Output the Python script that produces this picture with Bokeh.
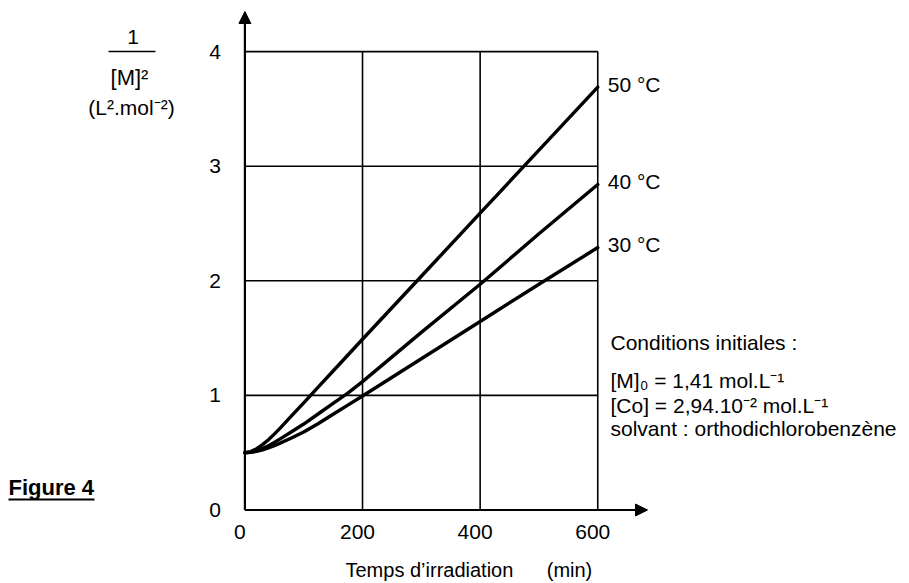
from bokeh.plotting import figure
from bokeh.models import Range1d, Arrow, NormalHead
from bokeh.core.properties import value
from bokeh.embed import file_html
from bokeh.resources import INLINE

# ---------------- data ----------------
x_50 = [0, 10, 20, 30, 40, 50, 60, 80, 100, 125, 150, 200, 300, 400, 500, 600]
y_50 = [0.50, 0.51, 0.535, 0.57, 0.613, 0.662, 0.715, 0.825, 0.935, 1.075, 1.213, 1.49, 2.04, 2.59, 3.14, 3.69]

x_40 = [0, 10, 20, 30, 40, 50, 60, 80, 100, 125, 150, 175, 200, 300, 400, 500, 600]
y_40 = [0.50, 0.505, 0.518, 0.537, 0.561, 0.59, 0.621, 0.685, 0.75, 0.84, 0.93, 1.02, 1.12, 1.55, 1.97, 2.41, 2.84]

x_30 = [0, 10, 20, 30, 40, 50, 60, 80, 100, 125, 150, 175, 200, 300, 400, 500, 600]
y_30 = [0.50, 0.503, 0.512, 0.525, 0.542, 0.562, 0.584, 0.63, 0.68, 0.755, 0.835, 0.915, 0.995, 1.32, 1.645, 1.97, 2.29]

series_labels = ["50 °C", "40 °C", "30 °C"]

x_ticks = [0, 200, 400, 600]
x_tick_labels = ["0", "200", "400", "600"]
y_ticks = [0, 1, 2, 3, 4]
y_tick_labels = ["0", "1", "2", "3", "4"]

x_title = "Temps d’irradiation"
x_unit = "(min)"
y_title_num = "1"
y_title_den = "[M]²"
y_unit = "(L².mol⁻²)"
conditions = [
    "Conditions initiales :",
    "[M]₀ = 1,41 mol.L⁻¹",
    "[Co] = 2,94.10⁻² mol.L⁻¹",
    "solvant : orthodichlorobenzène",
]
fig_label = "Figure 4"

# ---------------- layout (page pixels) ----------------
W, H = 909, 583
PX0, SX = 244.4, 0.5881   # page x of t=0, pixels per minute
PY0, SY = 509.5, 114.6    # page y of value 0, pixels per unit


def xd(px):
    return (px - PX0) / SX


def yd(py):
    return (PY0 - py) / SY


FONT = value("Liberation Sans")
BLACK = "#000000"

p = figure(width=W, height=H, output_backend="svg", toolbar_location=None,
           x_range=Range1d(xd(0), xd(W)), y_range=Range1d(yd(H), yd(0)),
           x_axis_type=None, y_axis_type=None, min_border=0,
           outline_line_color=None, background_fill_color="white",
           border_fill_color="white")

# grid box
xmax, ymax = x_ticks[-1], y_ticks[-1]
p.segment(x0=[x_ticks[0]] * (len(y_ticks) - 1), y0=y_ticks[1:],
          x1=[xmax] * (len(y_ticks) - 1), y1=y_ticks[1:],
          line_color=BLACK, line_width=1.6)
p.segment(x0=x_ticks[1:], y0=[y_ticks[0]] * (len(x_ticks) - 1),
          x1=x_ticks[1:], y1=[ymax] * (len(x_ticks) - 1),
          line_color=BLACK, line_width=1.6)

# axes with arrow heads
p.add_layout(Arrow(end=NormalHead(size=12, fill_color=BLACK, line_color=BLACK, line_width=1),
                   x_start=0, y_start=0, x_end=0, y_end=yd(11),
                   line_color=BLACK, line_width=2.2))
p.add_layout(Arrow(end=NormalHead(size=12, fill_color=BLACK, line_color=BLACK, line_width=1),
                   x_start=0, y_start=0, x_end=xd(647), y_end=0,
                   line_color=BLACK, line_width=2.2))

# curves
for xs, ys in ((x_50, y_50), (x_40, y_40), (x_30, y_30)):
    p.line(xs, ys, line_color=BLACK, line_width=3.4, line_join="round", line_cap="round")

TXT = dict(text_font=FONT, text_color=BLACK, text_baseline="middle")

# curve labels
p.text(x=[x_50[-1], x_40[-1], x_30[-1]], y=[y_50[-1], y_40[-1], y_30[-1]],
       text=series_labels, x_offset=10, y_offset=-3,
       text_font_size="21px", text_align="left", **TXT)

# tick labels
p.text(x=x_ticks, y=[0] * len(x_ticks), text=x_tick_labels, x_offset=-5, y_offset=22,
       text_font_size="21px", text_align="center", **TXT)
p.text(x=[0] * len(y_ticks), y=y_ticks, text=y_tick_labels, x_offset=-24, y_offset=0,
       text_font_size="21px", text_align="right", **TXT)

# y title (fraction)
p.text(x=[xd(132.5)], y=[yd(36)], text=[y_title_num],
       text_font_size="21px", text_align="center", **TXT)
p.segment(x0=[xd(108)], y0=[yd(51)], x1=[xd(155)], y1=[yd(51)],
          line_color=BLACK, line_width=1.5)
p.text(x=[xd(129)], y=[yd(77)], text=[y_title_den],
       text_font_size="22px", text_align="center", **TXT)
p.text(x=[xd(131)], y=[yd(106.5)], text=[y_unit],
       text_font_size="21px", text_align="center", **TXT)

# x title
p.text(x=[xd(345)], y=[yd(569.5)], text=[x_title],
       text_font_size="20px", text_align="left", **TXT)
p.text(x=[xd(569)], y=[yd(569.5)], text=[x_unit],
       text_font_size="20px", text_align="center", **TXT)

# conditions block
p.text(x=[xd(610)] * len(conditions), y=[yd(c) for c in (342, 379.5, 405, 427.5)],
       text=conditions, text_font_size="21px", text_align="left", **TXT)

# figure label (bold, underlined)
p.text(x=[xd(8)], y=[yd(486.5)], text=[fig_label],
       text_font_size="22px", text_font_style="bold", text_align="left", **TXT)
p.segment(x0=[xd(8)], y0=[yd(499)], x1=[xd(94)], y1=[yd(499)],
          line_color=BLACK, line_width=2)

open("out.html", "w").write(file_html(p, INLINE))
